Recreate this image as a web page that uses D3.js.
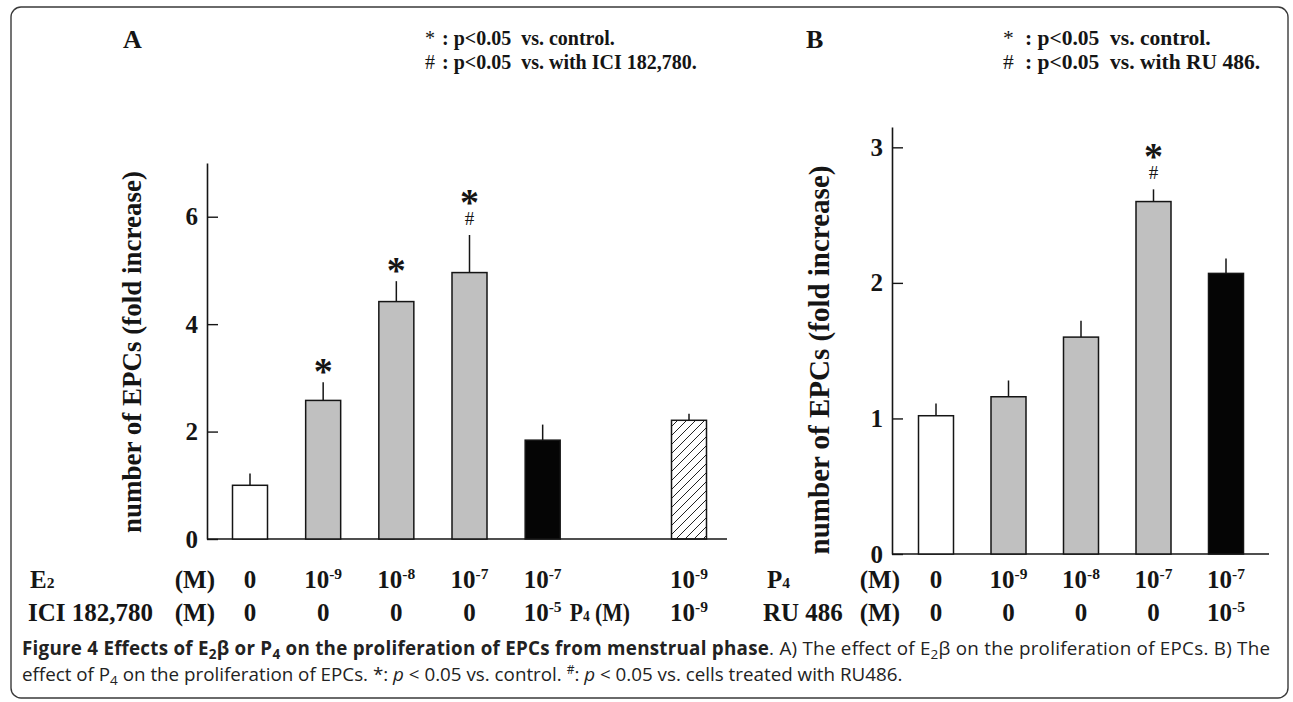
<!DOCTYPE html>
<html lang="en">

<head>
  <title>Figure 4</title>
  <meta charset="UTF-8">
  <style>
    body {
      margin: 0;
      background: #fff;
    }
  </style>
</head>

<body>
  <div id="container"></div>
  <script src="https://cdn.jsdelivr.net/npm/d3@7"></script>
  <script>
    // panel A: E2 beta
    const catsA = ['c0', 'c1', 'c2', 'c3', 'c4', 'gap', 'c6'];
    const barsA = ['c0', 'c1', 'c2', 'c3', 'c4', 'c6'];
    const valuesA = [1.0, 2.58, 4.42, 4.96, 1.84, 2.21];
    const errTopA = [1.22, 2.92, 4.80, 5.66, 2.13, 2.33];
    const fillA = ['white', 'gray', 'gray', 'gray', 'black', 'hatch'];
    const marksA = ['', '*', '*', '*#', '', ''];
    const row1A = ['0', '10|-9', '10|-8', '10|-7', '10|-7', '10|-9'];
    const row2A = ['0', '0', '0', '0', '10|-5', '10|-9'];
    const ticksA = [0, 2, 4, 6];

    // panel B: P4
    const catsB = ['d0', 'd1', 'd2', 'd3', 'd4'];
    const valuesB = [1.02, 1.16, 1.60, 2.60, 2.07];
    const errTopB = [1.11, 1.28, 1.72, 2.69, 2.18];
    const fillB = ['white', 'gray', 'gray', 'gray', 'black'];
    const marksB = ['', '', '', '*#', ''];
    const row1B = ['0', '10|-9', '10|-8', '10|-7', '10|-7'];
    const row2B = ['0', '0', '0', '0', '10|-5'];
    const ticksB = [0, 1, 2, 3];

    const serif = '"Liberation Serif", "Times New Roman", serif';
    const ink = '#151515';

    const svg = d3.select('#container')
      .append('svg')
      .attr('width', 1293)
      .attr('height', 702);

    const defs = svg.append('defs');
    defs.append('pattern')
      .attr('id', 'hatch')
      .attr('patternUnits', 'userSpaceOnUse')
      .attr('width', 9)
      .attr('height', 9)
      .append('path')
      .attr('d', 'M-1,1 l2,-2 M0,9 l9,-9 M8,10 l2,-2')
      .attr('stroke', '#222')
      .attr('stroke-width', 1);

    const fillColor = {
      white: '#ffffff',
      gray: '#c0c0c0',
      black: '#050505',
      hatch: 'url(#hatch)'
    };

    // frame
    svg.append('rect')
      .attr('x', 11)
      .attr('y', 7)
      .attr('width', 1277)
      .attr('height', 691)
      .attr('rx', 10)
      .attr('fill', 'none')
      .attr('stroke', '#3a3a3a')
      .attr('stroke-width', 1.4);

    // writes "10|-9" as 10 with a raised exponent
    function powText(sel, str, size) {
      const parts = str.split('|');
      sel.append('tspan').text(parts[0]);
      if (parts[1]) {
        sel.append('tspan')
          .attr('font-size', size * 0.62)
          .attr('dy', -size * 0.38)
          .text(parts[1]);
      }
    }

    function subText(sel, base, sub, size) {
      sel.append('tspan').text(base);
      sel.append('tspan').attr('font-size', size * 0.62).text(sub);
    }

    function panel(opt) {
      const g = svg.append('g');
      const x = d3.scalePoint().domain(opt.cats).range(opt.xRange);
      const y = d3.scaleLinear().domain(opt.yDomain).range(opt.yRange);
      const bw = 35;

      // y axis, ticks pointing inward
      const axis = g.append('g')
        .attr('transform', `translate(${opt.axisX},0)`)
        .call(d3.axisLeft(y).tickValues(opt.ticks).tickSizeInner(-11).tickSizeOuter(0).tickPadding(9)
          .tickFormat(d3.format('d')));
      axis.attr('font-family', serif).attr('font-size', 25);
      axis.select('.domain').attr('stroke', ink).attr('stroke-width', 1.6);
      axis.selectAll('.tick line').attr('stroke', ink).attr('stroke-width', 1.4);
      axis.selectAll('.tick text')
        .style('font-family', serif)
        .style('font-weight', 'bold')
        .style('font-size', '25px')
        .attr('fill', ink);

      // baseline
      g.append('line')
        .attr('x1', opt.axisX)
        .attr('x2', opt.baseEnd)
        .attr('y1', y(0))
        .attr('y2', y(0))
        .attr('stroke', ink)
        .attr('stroke-width', 1.6);

      // error bars (upper only, no caps)
      g.selectAll('.err')
        .data(opt.bars)
        .enter()
        .append('line')
        .attr('x1', d => x(d))
        .attr('x2', d => x(d))
        .attr('y1', (d, i) => y(opt.values[i]))
        .attr('y2', (d, i) => y(opt.errTop[i]))
        .attr('stroke', ink)
        .attr('stroke-width', 1.5);

      g.selectAll('.bar')
        .data(opt.bars)
        .enter()
        .append('rect')
        .attr('x', d => x(d) - bw / 2)
        .attr('width', bw)
        .attr('y', (d, i) => y(opt.values[i]))
        .attr('height', (d, i) => y(0) - y(opt.values[i]))
        .attr('fill', (d, i) => fillColor[opt.fills[i]])
        .attr('stroke', ink)
        .attr('stroke-width', 1.5);

      // significance marks: star, with # stacked under it in the same text
      opt.bars.forEach((d, i) => {
        const m = opt.marks[i];
        if (!m) return;
        const errY = y(opt.errTop[i]);
        const hasHash = m.indexOf('#') >= 0;
        const t = g.append('text')
          .attr('x', x(d))
          .attr('y', hasHash ? errY - 20 : errY + 2)
          .attr('text-anchor', 'middle')
          .attr('font-family', serif)
          .attr('fill', ink);
        t.append('tspan')
          .attr('font-weight', 'bold')
          .attr('font-size', 38)
          .text('*');
        if (hasHash) {
          t.append('tspan')
            .attr('x', x(d))
            .attr('dy', 10)
            .attr('font-size', 19)
            .text('#');
        }
      });

      // y axis title
      g.append('text')
        .attr('transform', `translate(${opt.titleX},${opt.titleY}) rotate(-90)`)
        .attr('text-anchor', 'middle')
        .attr('font-family', serif)
        .attr('font-weight', 'bold')
        .attr('font-size', opt.titleSize)
        .attr('fill', ink)
        .text('number of EPCs (fold increase)');

      // condition rows
      [opt.row1, opt.row2].forEach((row, r) => {
        row.forEach((s, i) => {
          const t = g.append('text')
            .attr('x', x(opt.bars[i]))
            .attr('y', opt.rowY[r])
            .attr('text-anchor', 'middle')
            .attr('font-family', serif)
            .attr('font-weight', 'bold')
            .attr('font-size', 25)
            .attr('fill', ink);
          powText(t, s, 25);
        });
      });

      // panel letter
      g.append('text')
        .attr('x', opt.letterX)
        .attr('y', 48)
        .attr('font-family', serif)
        .attr('font-weight', 'bold')
        .attr('font-size', 26)
        .attr('fill', ink)
        .text(opt.letter);

      // legend
      opt.legend.forEach((s, i) => {
        g.append('text')
          .attr('x', opt.legendX)
          .attr('y', 45 + i * 24)
          .attr('font-family', serif)
          .attr('font-size', opt.legendSize)
          .attr('fill', ink)
          .text(i === 0 ? '*' : '#');
        g.append('text')
          .attr('x', opt.legendX + opt.legendGap)
          .attr('y', 45 + i * 24)
          .attr('font-family', serif)
          .attr('font-weight', 'bold')
          .attr('font-size', opt.legendSize)
          .attr('fill', ink)
          .attr('xml:space', 'preserve')
          .text(s);
      });
      return { g, x };
    }

    const pa = panel({
      cats: catsA, bars: barsA, values: valuesA, errTop: errTopA, fills: fillA, marks: marksA,
      row1: row1A, row2: row2A, ticks: ticksA,
      xRange: [250, 689], yDomain: [0, 7], yRange: [539, 163],
      axisX: 207, baseEnd: 727, titleX: 141, titleY: 352, titleSize: 27, rowY: [588, 621],
      letter: 'A', letterX: 123, legendX: 425, legendGap: 17, legendSize: 20,
      legend: [': p<0.05  vs. control.', ': p<0.05  vs. with ICI 182,780.']
    });

    const pb = panel({
      cats: catsB, bars: catsB, values: valuesB, errTop: errTopB, fills: fillB, marks: marksB,
      row1: row1B, row2: row2B, ticks: ticksB,
      xRange: [936, 1226], yDomain: [0, 3.15], yRange: [554, 127],
      axisX: 892, baseEnd: 1269, titleX: 829, titleY: 360, titleSize: 29, rowY: [588, 621],
      letter: 'B', letterX: 806, legendX: 1003, legendGap: 22, legendSize: 21.5,
      legend: [': p<0.05  vs. control.', ': p<0.05  vs. with RU 486.']
    });

    // row headers
    function header(x, y, anchor, build, len) {
      const t = svg.append('text')
        .attr('x', x)
        .attr('y', y)
        .attr('text-anchor', anchor)
        .attr('font-family', serif)
        .attr('font-weight', 'bold')
        .attr('font-size', 25)
        .attr('fill', ink);
      if (len) t.attr('textLength', len).attr('lengthAdjust', 'spacingAndGlyphs');
      build(t);
    }
    header(30, 588, 'start', t => subText(t, 'E', '2', 25));
    header(215, 588, 'end', t => t.text('(M)'));
    header(28, 621, 'start', t => t.text('ICI 182,780'));
    header(215, 621, 'end', t => t.text('(M)'));
    header(pa.x('gap') - 46, 621, 'start', t => {
      subText(t, 'P', '4', 25);
      t.append('tspan').text(' (M)');
    }, 60);
    header(767, 588, 'start', t => subText(t, 'P', '4', 25));
    header(900, 588, 'end', t => t.text('(M)'));
    header(763, 621, 'start', t => t.text('RU 486'));
    header(900, 621, 'end', t => t.text('(M)'));

    // caption
    const sans = '"Open Sans", "Noto Sans", sans-serif';
    const capSize = 18.8;
    const subSize = 13.5;
    const cap1 = svg.append('text')
      .attr('x', 22)
      .attr('y', 655)
      .attr('font-family', sans)
      .attr('font-size', capSize)
      .attr('fill', '#222')
      .attr('textLength', 1248)
      .attr('lengthAdjust', 'spacing');
    const b = cap1.append('tspan').attr('font-weight', 'bold');
    b.append('tspan').text('Figure 4 Effects of E');
    b.append('tspan').attr('font-size', subSize).attr('dy', 4).text('2');
    b.append('tspan').attr('dy', -4).text('β or P');
    b.append('tspan').attr('font-size', subSize).attr('dy', 4).text('4');
    b.append('tspan').attr('dy', -4).text(' on the proliferation of EPCs from menstrual phase');
    cap1.append('tspan').text('. A) The effect of E');
    cap1.append('tspan').attr('font-size', subSize).attr('dy', 4).text('2');
    cap1.append('tspan').attr('dy', -4).text('β on the proliferation of EPCs. B) The');

    const cap2 = svg.append('text')
      .attr('x', 22)
      .attr('y', 681)
      .attr('font-family', sans)
      .attr('font-size', capSize)
      .attr('fill', '#222');
    cap2.append('tspan').text('effect of P');
    cap2.append('tspan').attr('font-size', subSize).attr('dy', 4).text('4');
    cap2.append('tspan').attr('dy', -4).text(' on the proliferation of EPCs. *: ');
    cap2.append('tspan').attr('font-style', 'italic').text('p');
    cap2.append('tspan').text(' < 0.05 vs. control. ');
    cap2.append('tspan').attr('font-size', 12).attr('dy', -7).text('#');
    cap2.append('tspan').attr('dy', 7).text(': ');
    cap2.append('tspan').attr('font-style', 'italic').text('p');
    cap2.append('tspan').text(' < 0.05 vs. cells treated with RU486.');
  </script>
</body>

</html>
